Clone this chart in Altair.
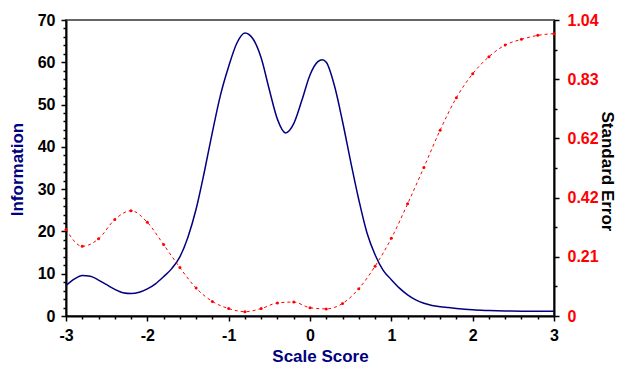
import altair as alt
import pandas as pd

# ---- data ----
info_x = [-3.0, -2.9, -2.8, -2.7, -2.6, -2.5, -2.4, -2.3, -2.2, -2.1, -2.0, -1.9, -1.8, -1.7,
          -1.6, -1.5, -1.4, -1.3, -1.2, -1.1, -1.0, -0.9, -0.8, -0.7, -0.6, -0.5, -0.4, -0.3,
          -0.2, -0.1, 0.0, 0.1, 0.15, 0.2, 0.3, 0.4, 0.5, 0.6, 0.7, 0.8, 0.9, 1.0, 1.1, 1.2,
          1.3, 1.4, 1.5, 1.6, 1.7, 1.8, 1.9, 2.0, 2.2, 2.4, 2.6, 2.8, 3.0]
info_y = [7.2, 8.7, 9.6, 9.4, 8.5, 7.4, 6.3, 5.5, 5.3, 5.6, 6.4, 7.6, 9.3, 11.2,
          14.0, 18.7, 25.3, 34.0, 43.5, 52.3, 59.0, 64.5, 66.9, 65.5, 61.0, 53.5, 46.5, 43.3,
          45.5, 51.0, 57.0, 60.2, 60.6, 60.0, 54.5, 46.0, 36.5, 27.5, 19.7, 14.5, 10.8, 8.6,
          6.6, 5.0, 3.8, 3.0, 2.5, 2.2, 2.0, 1.8, 1.6, 1.45, 1.3, 1.2, 1.15, 1.1, 1.1]

se_x = [-3.0, -2.8, -2.6, -2.4, -2.2, -2.0, -1.8, -1.6, -1.4, -1.2, -1.0, -0.8, -0.6, -0.4,
        -0.2, 0.0, 0.2, 0.4, 0.6, 0.8, 1.0, 1.2, 1.4, 1.6, 1.8, 2.0, 2.2, 2.4, 2.6, 2.8, 3.0]
se_y = [0.304, 0.245, 0.271, 0.339, 0.370, 0.329, 0.251, 0.170, 0.098, 0.051, 0.026, 0.015,
        0.026, 0.046, 0.049, 0.029, 0.025, 0.044, 0.096, 0.175, 0.273, 0.394, 0.522, 0.653,
        0.767, 0.851, 0.911, 0.952, 0.972, 0.986, 0.992]

# axis tick positions
x_ticks = [round(-3 + 0.2 * i, 1) for i in range(31)]
info_ticks = list(range(0, 71, 2))
se_ticks = [round(0.104 * i, 3) for i in range(11)]

info_df = pd.DataFrame({"x": info_x, "info": info_y})
se_df = pd.DataFrame({"x": se_x, "se": se_y})

FONT = "Liberation Sans"
NAVY = "#000080"
RED = "#ff0000"

IS_INT = "abs(datum.value - round(datum.value)) < 0.001"

x_axis = alt.Axis(
    values=x_ticks,
    labelExpr=IS_INT + " ? ((datum.value < 0 ? '-' : '') + abs(round(datum.value))) : ''",
    tickSize={"condition": {"test": IS_INT, "value": 5}, "value": 3},
    title="Scale Score",
    titleColor=NAVY,
    titleFont=FONT,
    titleFontSize=17,
    titleFontWeight="bold",
    titleX=254,
    titleY=45,
    titleAlign="center",
    titleBaseline="alphabetic",
    labelFont=FONT,
    labelFontSize=16,
    labelFontWeight="bold",
    labelColor="black",
    labelPadding=6,
    labelFlush=False,
    labelOverlap=False,
    labelBound=False,
    grid=False,
    domainColor="black",
    domainWidth=2,
    tickColor="black",
    tickWidth=1.5,
)
x_scale = alt.Scale(domain=[-3, 3], nice=False, zero=False)

info_line = alt.Chart(info_df).mark_line(
    color=NAVY, strokeWidth=1.5, interpolate="monotone"
).encode(
    x=alt.X("x:Q", scale=x_scale, axis=x_axis),
    y=alt.Y(
        "info:Q",
        scale=alt.Scale(domain=[0, 70], nice=False),
        axis=alt.Axis(
            orient="left",
            values=info_ticks,
            labelExpr="datum.value % 10 === 0 ? datum.value : ''",
            tickSize={"condition": {"test": "datum.value % 10 === 0", "value": 5}, "value": 3},
            title="Information",
            titleColor=NAVY,
            titleFont=FONT,
            titleFontSize=17,
            titleFontWeight="bold",
            titleAngle=-90,
            titleX=-44,
            titleY=149,
            titleAlign="center",
            titleBaseline="alphabetic",
            labelFont=FONT,
            labelFontSize=16,
            labelFontWeight="bold",
            labelColor="black",
            labelPadding=6,
            labelOverlap=False,
            labelFlush=False,
            grid=False,
            domainColor="black",
            domainWidth=2,
            tickColor="black",
            tickWidth=1.5,
        ),
    ),
)

se_line = alt.Chart(se_df).mark_line(
    color=RED, strokeWidth=1, strokeDash=[3, 3], interpolate="monotone",
    point=alt.OverlayMarkDef(filled=True, color=RED, size=9),
).encode(
    x=alt.X("x:Q", scale=x_scale, axis=x_axis),
    y=alt.Y(
        "se:Q",
        scale=alt.Scale(domain=[0, 1.04], nice=False),
        axis=alt.Axis(
            orient="right",
            values=se_ticks,
            labelExpr="round(datum.value / 0.104) % 2 === 0 ? (datum.value === 0 ? '0' : format(datum.value, '.2f')) : ''",
            tickSize={"condition": {"test": "round(datum.value / 0.104) % 2 === 0", "value": 5}, "value": 3},
            title="Standard Error",
            titleColor="black",
            titleFont=FONT,
            titleFontSize=17,
            titleFontWeight="bold",
            titleAngle=90,
            titleX=47,
            titleY=151,
            titleAlign="center",
            titleBaseline="alphabetic",
            labelFont=FONT,
            labelFontSize=16,
            labelFontWeight="bold",
            labelColor=RED,
            labelPadding=8,
            labelOverlap=False,
            labelFlush=False,
            grid=False,
            domainColor="black",
            domainWidth=2,
            tickColor="black",
            tickWidth=1.5,
        ),
    ),
)

chart = alt.layer(info_line, se_line).resolve_scale(y="independent").properties(
    width=488,
    height=296,
    autosize=alt.AutoSizeParams(type="none"),
    padding={"left": 58, "top": 12, "right": 65, "bottom": 48},
    background="white",
).configure_view(stroke="#666666", strokeWidth=2)

chart.save("out.html", embed_options={"renderer": "svg", "actions": False})
